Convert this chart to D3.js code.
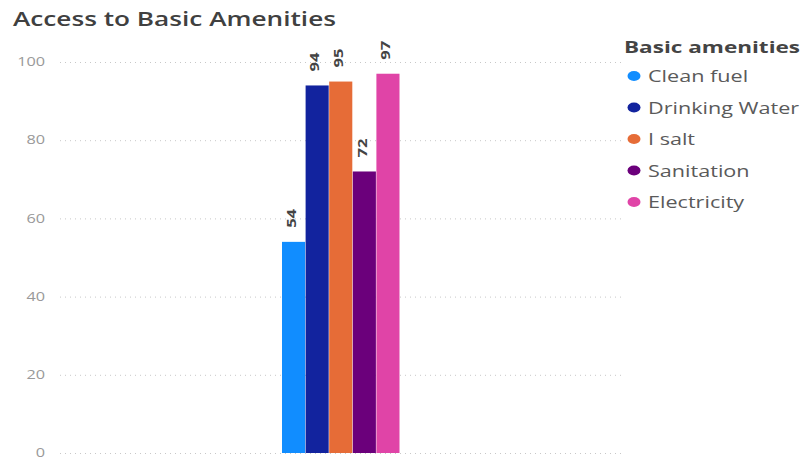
<!DOCTYPE html>
<html>
<head>
<meta charset="utf-8">
<script src="https://cdn.jsdelivr.net/npm/d3@7"></script>
<style>
  body { margin: 0; background: #fff; }
  text { font-family: "Open Sans", "Noto Sans", sans-serif; }
</style>
</head>
<body>
<div id="chart"></div>
<script>
// ---- data
const categories = ["Clean fuel", "Drinking Water", "I salt", "Sanitation", "Electricity"];
const values = [54, 94, 95, 72, 97];
const colors = ["#118DFF", "#12239E", "#E66C37", "#6B007B", "#E044A7"];
const yTicks = [0, 20, 40, 60, 80, 100];

const w = 812;
const h = 459;

// ---- plot area
const pLeft = 60;
const pRight = 625;
const pTop = 62;
const pBottom = 453;

// the screenshot is a bit wide, so texts get stretched sideways
const stretch = (sel, k) => {
    sel.each(function () {
        const L = this.getComputedTextLength();
        d3.select(this)
            .attr("textLength", L * k)
            .attr("lengthAdjust", "spacingAndGlyphs");
    });
};

const svg = d3.select("#chart")
    .append("svg")
    .attr("width", w)
    .attr("height", h);

// SCALES
const yScale = d3.scaleLinear()
    .domain([0, 100])
    .range([pBottom, pTop]);

// one group in the middle, five bars side by side
const xScale = d3.scaleBand()
    .domain(categories)
    .range([282, 400])
    .paddingInner(0);

const colorScale = d3.scaleOrdinal().domain(categories).range(colors);

// TITLE
svg.append("text")
    .attr("x", 13)
    .attr("y", 26)
    .attr("textLength", 323)
    .attr("lengthAdjust", "spacingAndGlyphs")
    .style("font-size", "19px")
    .style("font-weight", 600)
    .style("fill", "#404040")
    .text("Access to Basic Amenities");

// Y AXIS (grid + labels)
const yAxis = d3.axisLeft(yScale)
    .tickValues(yTicks)
    .tickSize(-(pRight - pLeft))
    .tickPadding(15);

const gy = svg.append("g")
    .attr("transform", `translate(${pLeft},0)`)
    .call(yAxis);
gy.select(".domain").remove();
gy.selectAll(".tick line")
    .attr("stroke", "#c8c8c8")
    .attr("stroke-dasharray", "1,4");
gy.selectAll(".tick text")
    .style("font-size", "12.5px")
    .style("fill", "#999")
    .style("font-family", "'Open Sans', sans-serif")
    .attr("dy", "0.3em")
    .call(stretch, 1.3);

// BARS
svg.append("g")
    .selectAll("rect")
    .data(values)
    .enter()
    .append("rect")
    .attr("x", (d, i) => xScale(categories[i]))
    .attr("y", (d) => yScale(d))
    .attr("width", xScale.bandwidth() - 0.5)
    .attr("height", (d) => yScale(0) - yScale(d))
    .attr("fill", (d, i) => colors[i]);

// DATA LABELS (rotated)
svg.append("g")
    .selectAll("text")
    .data(values)
    .enter()
    .append("text")
    .attr("transform", (d, i) => {
        const x = xScale(categories[i]) + xScale.bandwidth() / 2 + 2;
        const y = yScale(d) - 14;
        return `translate(${x},${y}) rotate(-90)`;
    })
    .style("font-size", "13px")
    .style("font-weight", "bold")
    .style("fill", "#444")
    .text((d) => d)
    .call(stretch, 1.27);

// LEGEND
svg.append("text")
    .attr("x", 624)
    .attr("y", 53)
    .attr("textLength", 176)
    .attr("lengthAdjust", "spacingAndGlyphs")
    .style("font-size", "16px")
    .style("font-weight", "bold")
    .style("fill", "#444")
    .text("Basic amenities");

const legendElem = svg.append("g")
    .selectAll("g")
    .data(categories)
    .enter()
    .append("g")
    .attr("transform", (d, i) => `translate(634, ${76 + i * 31.5})`);

legendElem.append("ellipse")
    .attr("rx", 6.5)
    .attr("ry", 5)
    .style("fill", (d) => colorScale(d));

legendElem.append("text")
    .attr("x", 14)
    .attr("y", 6)
    .style("font-size", "17px")
    .style("fill", "#5a5a5a")
    .text((d) => d)
    .call(stretch, 1.27);
</script>
</body>
</html>
